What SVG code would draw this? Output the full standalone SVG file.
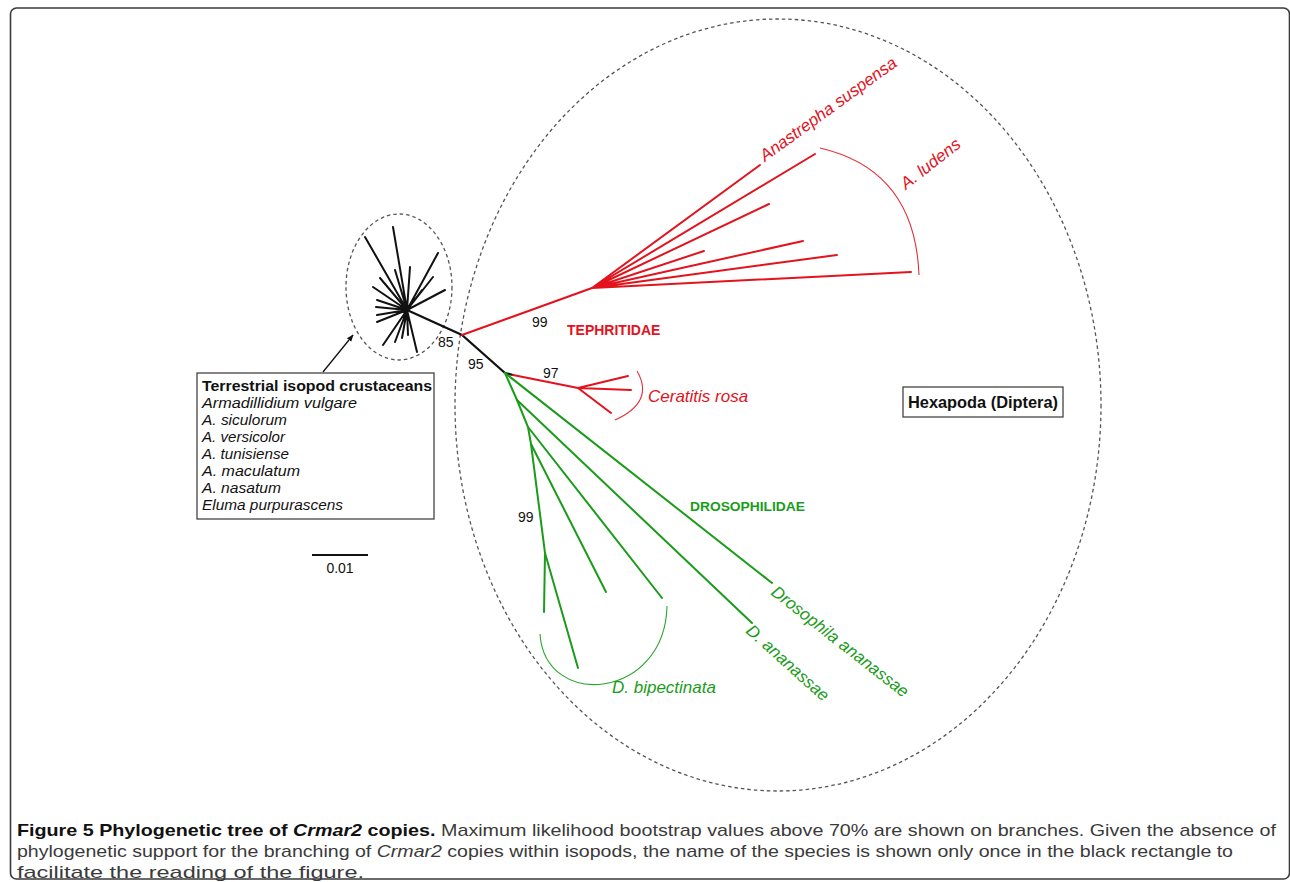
<svg xmlns="http://www.w3.org/2000/svg" width="1290" height="882" viewBox="0 0 1290 882">
<style>
.frame{fill:none;stroke:#3a3a3a;stroke-width:1.6}
.dash{fill:none;stroke:#555;stroke-width:1.3;stroke-dasharray:3.5 3}
.blk{fill:none;stroke:#111;stroke-width:2.2;stroke-linecap:round}
.red{fill:none;stroke:#e2131d;stroke-width:2;stroke-linecap:round}
.grn{fill:none;stroke:#1a9c1a;stroke-width:2;stroke-linecap:round}
.redarc{fill:none;stroke:#e2303a;stroke-width:1.1}
.grnarc{fill:none;stroke:#2aa52a;stroke-width:1.1}
.num{font-family:"Liberation Sans",Arial,sans-serif;font-size:14px;fill:#111}
.sp{font-family:"Liberation Sans",Arial,sans-serif;font-size:17px;font-style:italic}
.fam{font-family:"Liberation Sans",Arial,sans-serif;font-size:14px;font-weight:bold}
.rt{fill:#e2131d}
.gt{fill:#1a9c1a}
.box{fill:#fff;stroke:#444;stroke-width:1.3}
.bx{font-family:"Liberation Sans",Arial,sans-serif;font-size:15px;fill:#111}
.cap{font-family:"Liberation Sans",Arial,sans-serif;font-size:17px;fill:#3a3a3a}
</style>
<defs>
<marker id="ah" viewBox="0 0 10 10" refX="9" refY="5" markerWidth="7" markerHeight="7" orient="auto" markerUnits="userSpaceOnUse">
<path d="M0,1 L10,5 L0,9 Z" fill="#111"/>
</marker>
</defs>

<rect class="frame" x="10.5" y="8" width="1279" height="871" rx="6"/>

<g id="hexapoda-ellipse"><ellipse class="dash" cx="778" cy="405" rx="323" ry="386"/></g>
<g id="isopod-ellipse"><ellipse class="dash" cx="399" cy="287" rx="53" ry="73"/></g>

<g id="connectors">
<g id="isopod-star">
<path class="blk" style="stroke-width:2" d="M407,310 L365,237 M407,310 L393,227 M407,310 L438,253 M407,310 L433,277 M407,310 L445,290 M407,310 L410,267 M407,310 L395,270 M407,310 L380,278 M407,310 L373,287 M407,310 L377,300 M407,310 L376,307 M407,310 L377,315 M407,310 L377,322 M407,310 L383,345 M407,310 L395,342 M407,310 L402,338 M407,310 L408,335 M407,310 L417,352 M407,310 L422,290"/>
</g>
<path class="blk" d="M407,310 L462,335 L505,373 L513,375"/>
<g id="tephritidae-branches">
<path class="red" d="M462,335 L592,288"/>
<path class="red" d="M592,288 L760,165 M592,288 L815,154 M592,288 L769,204 M592,288 L704,251 M592,288 L803,241 M592,288 L837,255 M592,288 L911,272"/>
<path class="redarc" d="M820,148 Q915,170 919,275"/>
<path class="red" d="M513,375 L578,388 M578,388 L628,376 M578,388 L631,390 M578,388 L611,413"/>
<path class="redarc" d="M637,371 Q655,402 615,420"/>
</g>
<g id="drosophilidae-branches">
<path class="grn" d="M505,373 L517,400 L528,427 L531,444 L545,553 L544,612"/>
<path class="grn" d="M505,373 L772,583 M517,400 L752,623 M528,427 L662,598 M531,444 L606,592 M545,553 L578,668"/>
<path class="grnarc" d="M540,634 C545,710 665,700 667,606"/>
</g>
<path id="box-arrow" d="M323,372 L353,335" stroke="#111" stroke-width="1.3" fill="none" marker-end="url(#ah)"/>
</g>

<g id="bootstrap-labels">
<text class="num" x="438" y="347">85</text>
<text class="num" x="468" y="369">95</text>
<text class="num" x="532" y="327">99</text>
<text class="num" x="543" y="378">97</text>
<text class="num" x="518" y="522">99</text>
</g>

<g id="tephritidae-labels">
<text class="fam rt" x="567" y="335">TEPHRITIDAE</text>
<text class="sp rt" transform="translate(765,162) rotate(-36)">Anastrepha suspensa</text>
<text class="sp rt" transform="translate(906,190) rotate(-38)">A. ludens</text>
<text class="sp rt" x="648" y="402">Ceratitis rosa</text>
</g>

<g id="drosophilidae-labels">
<text class="fam gt" x="690" y="511" textLength="115" lengthAdjust="spacingAndGlyphs" style="font-size:13.5px">DROSOPHILIDAE</text>
<text class="sp gt" transform="translate(770,594) rotate(38)">Drosophila ananassae</text>
<text class="sp gt" transform="translate(745,632) rotate(42)">D. ananassae</text>
<text class="sp gt" x="612" y="693">D. bipectinata</text>
</g>

<g id="isopod-box">
<rect class="box" x="197" y="373" width="237" height="146"/>
<text class="bx" x="202" y="391" font-weight="bold" textLength="230" lengthAdjust="spacingAndGlyphs">Terrestrial isopod crustaceans</text>
<text class="bx" x="202" y="408" font-style="italic" textLength="155" lengthAdjust="spacingAndGlyphs">Armadillidium vulgare</text>
<text class="bx" x="202" y="425" font-style="italic" textLength="85" lengthAdjust="spacingAndGlyphs">A. siculorum</text>
<text class="bx" x="202" y="442" font-style="italic" textLength="83" lengthAdjust="spacingAndGlyphs">A. versicolor</text>
<text class="bx" x="202" y="459" font-style="italic" textLength="87" lengthAdjust="spacingAndGlyphs">A. tunisiense</text>
<text class="bx" x="202" y="476" font-style="italic" textLength="98" lengthAdjust="spacingAndGlyphs">A. maculatum</text>
<text class="bx" x="202" y="493" font-style="italic" textLength="79" lengthAdjust="spacingAndGlyphs">A. nasatum</text>
<text class="bx" x="202" y="510" font-style="italic" textLength="141" lengthAdjust="spacingAndGlyphs">Eluma purpurascens</text>
</g>

<g id="hexapoda-box">
<rect class="box" x="903" y="387" width="160" height="30"/>
<text class="bx" x="908" y="408" font-weight="bold" textLength="150" lengthAdjust="spacingAndGlyphs" style="font-size:16px">Hexapoda (Diptera)</text>
</g>

<g id="scale-bar">
<line x1="312" y1="555" x2="368" y2="555" stroke="#111" stroke-width="2"/>
<text class="num" x="340" y="573" text-anchor="middle">0.01</text>
</g>

<g id="caption">
<text class="cap" x="17" y="836" textLength="1259" lengthAdjust="spacingAndGlyphs"><tspan font-weight="bold" fill="#111">Figure 5 Phylogenetic tree of <tspan font-style="italic">Crmar2</tspan> copies.</tspan> Maximum likelihood bootstrap values above 70% are shown on branches. Given the absence of</text>
<text class="cap" x="17" y="857" textLength="1216" lengthAdjust="spacingAndGlyphs">phylogenetic support for the branching of <tspan font-style="italic">Crmar2</tspan> copies within isopods, the name of the species is shown only once in the black rectangle to</text>
<text class="cap" x="17" y="878" textLength="347" lengthAdjust="spacingAndGlyphs">facilitate the reading of the figure.</text>
</g>
</svg>
